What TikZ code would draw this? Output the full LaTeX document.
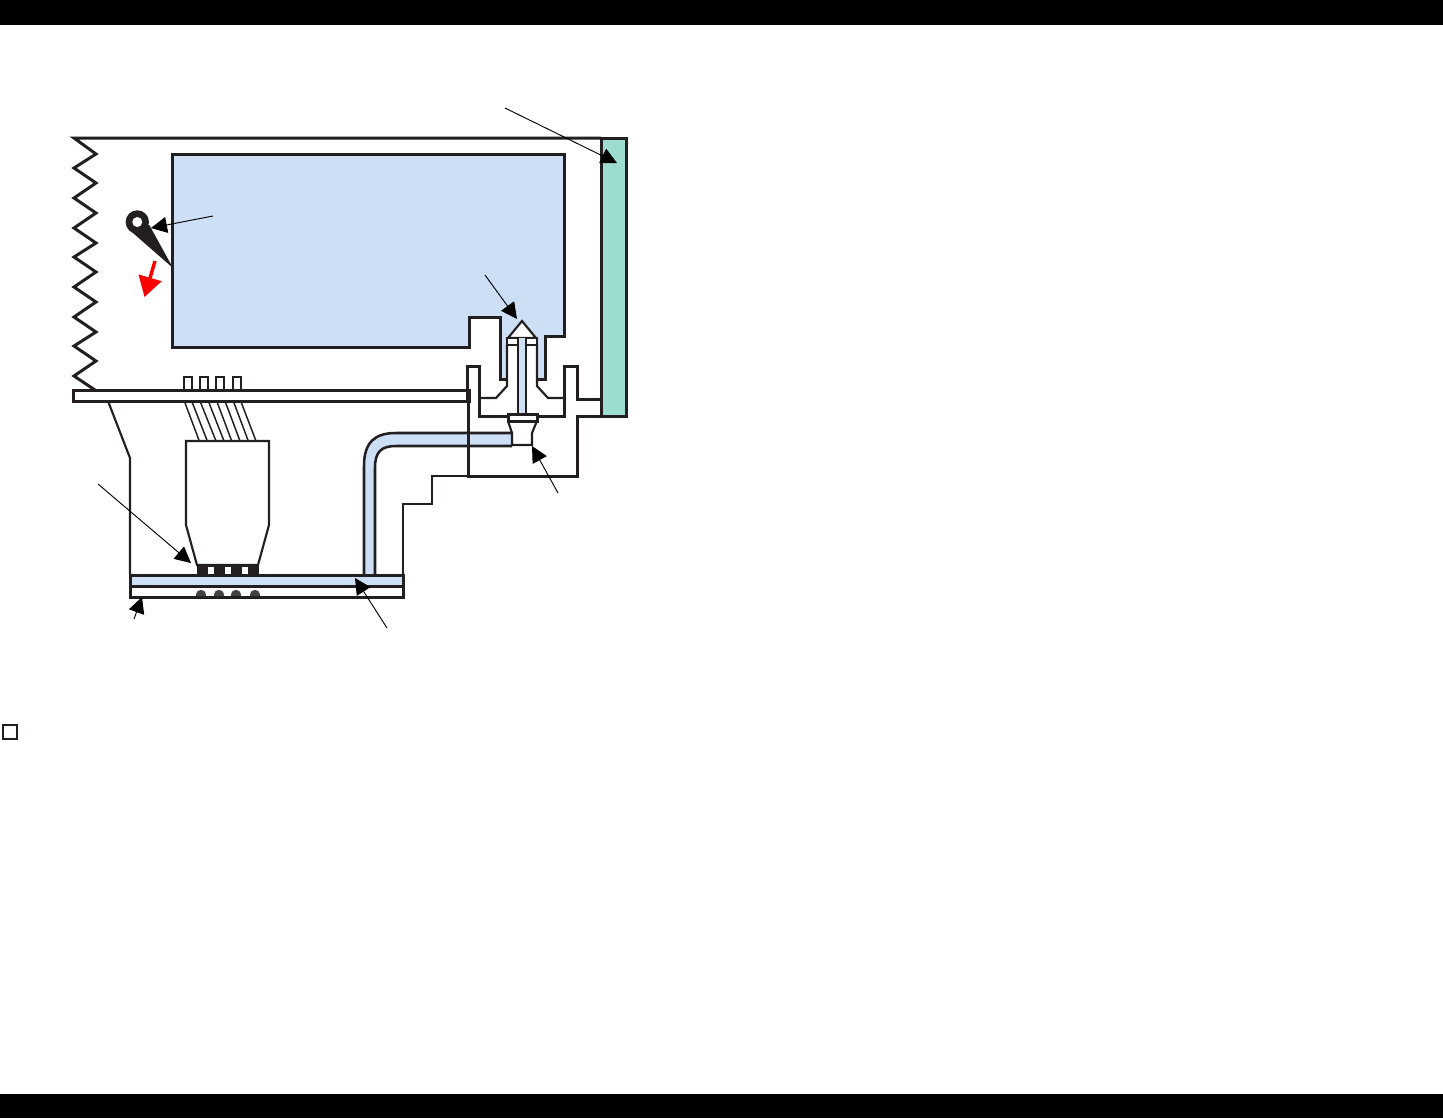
\documentclass[tikz,border=0pt]{standalone}
\usetikzlibrary{arrows.meta}
\definecolor{panelblue}{HTML}{CCDFF5}
\definecolor{slotgreen}{HTML}{9CDDD0}
\definecolor{ink}{HTML}{231F20}
\tikzset{
  heavy/.style={draw=ink,line width=2.25pt,line join=miter},
  medium/.style={draw=ink,line width=1.6pt,line join=miter},
  tube/.style={draw=ink,line width=1.9pt},
  light/.style={draw=ink,line width=1.1pt},
  callout/.style={draw=black,line width=0.7pt,-{Triangle[length=12pt,width=12pt]}},
  redarrow/.style={draw=red,line width=2.6pt,-{Triangle[length=15pt,width=17.5pt]}},
}
\begin{document}
\begin{tikzpicture}[x=0.75pt,y=-0.75pt]
\useasboundingbox (0,0) rectangle (1443,1118);
% page bars
\fill[black] (0,0) rectangle (1443,25);
\fill[black] (0,1094) rectangle (1443,1118);
\draw[light] (3,725) rectangle (17,739);
% fills
\fill[panelblue] (172,154) -- (564,154) -- (564,336) -- (545,336) -- (545,379) -- (537,379) -- (537,340) -- (507,340) -- (507,379) -- (500,379) -- (500,317) -- (469,317) -- (469,347) -- (172,347) -- cycle;
\fill[panelblue] (513,433) -- (396,433) .. controls (375,433) and (364,442) .. (364,466) -- (364,575) -- (375,575) -- (375,468) .. controls (375,452) and (381,446) .. (396,446) -- (513,446) -- cycle;
\fill[panelblue] (130,575) rectangle (403,586);
% panel outline
\draw[heavy] (537,379) -- (545,379) -- (545,336) -- (564,336) -- (564,154) -- (172,154) -- (172,347) -- (469,347) -- (469,317) -- (500,317) -- (500,379) -- (507,379);
% frame and spring
\draw[heavy] (601,138) -- (74,138) -- (96,154) -- (74,168) -- (96,183) -- (74,198) -- (96,213) -- (74,228) -- (96,243) -- (74,257) -- (96,272) -- (74,287) -- (96,302) -- (74,317) -- (96,332) -- (74,346) -- (96,361) -- (74,376) -- (95,390);
% green strip
\filldraw[heavy,fill=slotgreen] (601,138) rectangle (626,416);
% shelf and its teeth
\draw[heavy] (73,390) rectangle (469,401);
\foreach \xa/\xb in {184/192,200/208,216/224,233/241}
  \draw[medium] (\xa,390) -- (\xa,377) -- (\xb,377) -- (\xb,390);
% housing
\draw[heavy] (467,401) -- (467,366) -- (479,366) -- (479,416) -- (564,416) -- (564,366) -- (577,366) -- (577,399) -- (601,399);
\draw[heavy] (601,416) -- (577,416) -- (577,476) -- (468,476) -- (468,401);
\draw[medium] (468,476) -- (432,476) -- (432,504) -- (403,504) -- (403,575);
% pin
\filldraw[medium,fill=white] (522,321) -- (536,338) -- (508,338) -- cycle;
\filldraw[medium,fill=white] (507,338) rectangle (537,345);
\draw[medium] (507,345) -- (507,386) -- (496,398) -- (480,398);
\draw[medium] (537,345) -- (537,386) -- (548,398) -- (563,398);
\fill[panelblue] (518,338) rectangle (526,414);
\draw[medium] (518,338) -- (518,414);
\draw[medium] (526,338) -- (526,414);
% plug
\filldraw[heavy,fill=white] (508,414) rectangle (537,421);
\draw[medium] (508,421) -- (512,433) -- (512,445) -- (532,445) -- (532,433) -- (537,421);
% tube
\draw[tube] (512,433) -- (396,433) .. controls (375,433) and (364,442) .. (364,466) -- (364,575);
\draw[tube] (512,446) -- (396,446) .. controls (381,446) and (375,452) .. (375,468) -- (375,575);
% ribbon and connector
\foreach \xa/\xb in {184.3/199.3,191.7/207.3,200/216,208.3/224,216.7/231.7,225/240,233.3/248.3,240.7/256}
  \draw[light] (\xa,401) -- (\xb,441);
\draw[medium] (186,441) -- (269,441) -- (269,525) -- (258,565) -- (197,565) -- (186,525) -- cycle;
\fill[ink] (197,564) rectangle (259,575);
\fill[white] (208,567) rectangle (214,574);
\fill[white] (225,567) rectangle (231,574);
\fill[white] (242,567) rectangle (248,574);
% base
\draw[medium] (108,401) -- (130,458) -- (130,575);
\begin{scope}
\clip (130,585) rectangle (403,596);
\foreach \xc in {201,219,236,255}
  \fill[ink!85] (\xc,595) circle[radius=5.2];
\end{scope}
\draw[heavy] (130,575) rectangle (403,597);
\draw[heavy] (130,586) -- (403,586);
% lever
\fill[ink] (137.3,222) circle[radius=11.7];
\fill[ink] (129,229.5) -- (149.3,225) -- (173,268) -- cycle;
\fill[white] (137.3,222) circle[radius=5];
% callouts
\coordinate (a1) at (505,108); \coordinate (b1) at (617,163);
\coordinate (a2) at (213,216); \coordinate (b2) at (151,228);
\coordinate (a3) at (485,275); \coordinate (b3) at (517,319);
\coordinate (a4) at (558,493); \coordinate (b4) at (532,446);
\coordinate (a5) at (98,484);  \coordinate (b5) at (191,563);
\coordinate (a6) at (387,628); \coordinate (b6) at (355,578);
\coordinate (a7) at (134,619); \coordinate (b7) at (142,597);
\coordinate (a8) at (155,261); \coordinate (b8) at (144.5,297);
\foreach \n in {1,...,7} \draw[callout] (a\n) -- (b\n);
\draw[redarrow] (a8) -- (b8);
\end{tikzpicture}
\end{document}
